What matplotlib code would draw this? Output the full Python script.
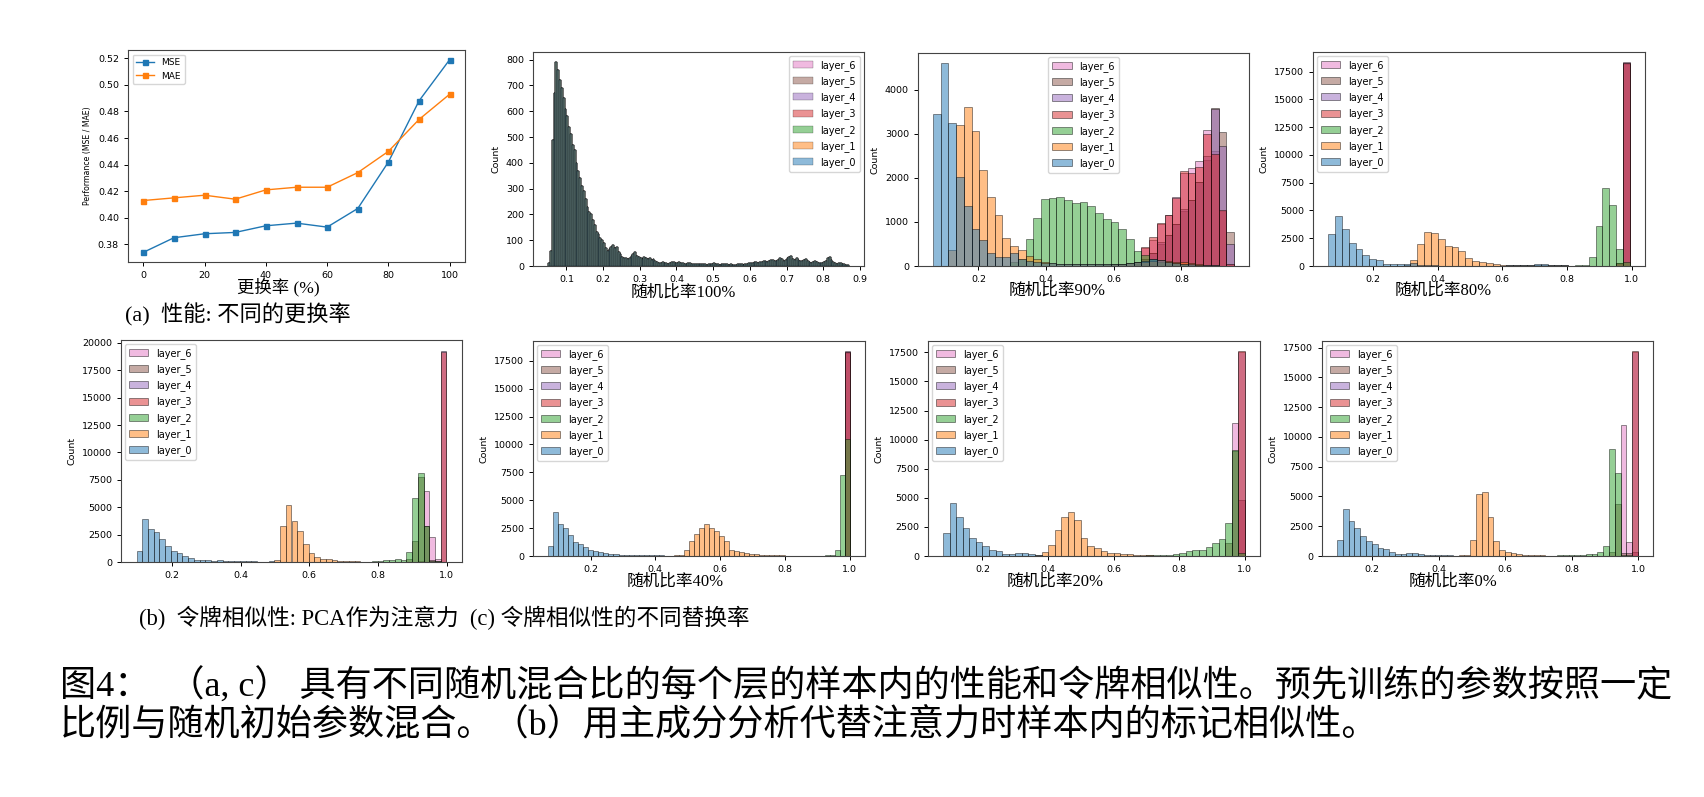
import numpy as np
import matplotlib
matplotlib.use('Agg')
from matplotlib import pyplot as plt

W, H = 1704, 797
plt.rcParams['font.family'] = ['DejaVu Sans']

# (a) performance vs replacement rate
rate = [0, 10, 20, 30, 40, 50, 60, 70, 80, 90, 100]
mse = [0.374, 0.385, 0.388, 0.389, 0.394, 0.396, 0.393, 0.407, 0.442, 0.488, 0.519]
mae = [0.413, 0.415, 0.417, 0.414, 0.421, 0.423, 0.423, 0.434, 0.450, 0.474, 0.493]

layers = ['layer_6', 'layer_5', 'layer_4', 'layer_3', 'layer_2', 'layer_1', 'layer_0']
layer_colors = {'layer_0': '#1f77b4', 'layer_1': '#ff7f0e', 'layer_2': '#2ca02c',
                'layer_3': '#d62728', 'layer_4': '#9467bd', 'layer_5': '#8c564b',
                'layer_6': '#e377c2'}

# random ratio 100% : all layers look the same (bin start, width, counts)
r100_bins = (0.05, 0.005, 164)
r100_counts = [10, 60, 490, 670, 790, 760, 720, 690, 650, 610,
               580, 540, 510, 470, 450, 400, 370, 340, 310, 290,
               260, 230, 210, 200, 180, 160, 130, 125, 110, 100,
               90, 70, 60, 65, 75, 80, 70, 75, 55, 45,
               35, 30, 32, 28, 30, 40, 45, 55, 40, 35,
               30, 28, 35, 30, 28, 30, 25, 28, 20, 15,
               12, 10, 14, 12, 10, 9, 12, 14, 16, 13, 12, 15, 10, 11, 9, 8, 10, 12, 9, 8,
               8, 7, 6, 8, 7, 6, 5, 6, 7, 8, 10, 8, 6, 5, 6, 7, 8, 6, 5, 6,
               5, 4, 5, 6, 7, 6, 5, 6, 8, 10,
               12, 10, 14, 15, 12, 14, 16, 18, 20, 15, 18, 22, 24, 20, 18, 25, 30, 26, 20, 24,
               30, 35, 38, 28, 25, 30, 22, 20, 18, 24, 26, 20, 15, 12, 14, 18, 16, 12, 10, 12,
               15, 20, 30, 35, 25, 15, 10, 8, 10, 12, 8, 6, 5, 3]

# random ratio 90%  (first non-empty bin, counts)
r90_bins = (0.066, 0.0228, 39)
r90 = {
    'layer_0': (0, [3450, 4600, 3250, 2010, 1350, 830, 600, 300, 195, 210, 285, 150, 120, 90,
                    70, 60, 55, 50, 45, 45, 40, 40, 40, 45, 50, 60, 80, 120, 150, 130, 100, 70,
                    50, 40, 30, 20, 15, 10, 5]),
    'layer_1': (2, [360, 3190, 3600, 3060, 2180, 1570, 1150, 640, 450, 370, 230, 150, 80, 60,
                    50, 50, 40, 40, 40, 40, 40, 40, 50, 60, 80, 100, 120, 130, 120, 100, 80,
                    60, 40, 30, 20, 10, 5]),
    'layer_2': (10, [100, 150, 620, 1090, 1510, 1550, 1575, 1490, 1425, 1455, 1360, 1200, 1065,
                     1000, 840, 615, 330, 250, 150, 100, 80, 60, 40, 30, 20, 10, 5]),
    'layer_3': (20, [10, 20, 30, 40, 50, 70, 100, 430, 660, 970, 1150, 1550, 2150, 2100, 2250,
                     3000, 2550, 1270, 40]),
    'layer_4': (26, [50, 150, 300, 550, 700, 950, 1300, 1500, 1900, 2500, 3550, 2730, 490]),
    'layer_5': (26, [50, 150, 300, 500, 700, 950, 1250, 1500, 1900, 2400, 3580, 3040, 760]),
    'layer_6': (26, [80, 400, 600, 950, 1150, 1560, 2100, 2220, 2380, 3080, 2600, 1250, 40]),
}

# random ratio 80%
r80_bins = (0.061, 0.02122, 44)
r80 = {
    'layer_0': (0, [2850, 4530, 3300, 2040, 1500, 960, 630, 540, 180, 180, 180, 200, 250, 60,
                    50, 50, 40, 40, 40, 40, 40, 40, 40, 40, 40, 40, 60, 80, 100, 120, 150, 150,
                    120, 80, 50, 40, 30, 20, 10, 10, 5, 5]),
    'layer_1': (11, [100, 540, 1980, 3030, 2940, 2400, 1800, 1680, 1350, 720, 450, 360, 270,
                     180, 120, 80, 60, 50, 50, 60, 80, 100, 80, 50, 40, 30, 20, 10, 5]),
    'layer_2': (35, [20, 50, 100, 800, 3600, 7000, 5520, 1500, 400]),
    'layer_3': (42, [300, 18300]),
    'layer_4': (42, [250, 18250]),
    'layer_5': (42, [300, 18150]),
    'layer_6': (42, [200, 18350]),
}

# (b) PCA as attention
pca_bins = (0.096, 0.01674, 54)
pca = {
    'layer_0': (0, [1010, 3890, 3030, 2700, 2140, 1470, 1040, 830, 550, 370, 210, 150, 150, 100,
                    150, 120, 80, 50, 50, 50, 50, 40, 0, 60]),
    'layer_1': (24, [210, 3250, 5240, 3700, 2790, 1680, 830, 430, 280, 280, 150, 80, 60, 50, 50,
                     40, 40, 30, 20, 10]),
    'layer_2': (41, [100, 120, 150, 180, 250, 200, 920, 5820, 8120, 3310, 100, 50]),
    'layer_3': (53, [19200]),
    'layer_4': (53, [19300]),
    'layer_5': (47, [300, 1900, 7800, 3300, 200, 100]),
    'layer_6': (49, [100, 6490, 2300, 300]),
}

# random ratio 40%
r40_bins = (0.069, 0.01552, 60)
r40 = {
    'layer_0': (0, [920, 3920, 2850, 2530, 1900, 1280, 1070, 830, 560, 480, 330, 240, 150, 150,
                    100, 120, 120, 120, 80, 80, 60, 60, 50, 30]),
    'layer_1': (25, [60, 120, 560, 1300, 1990, 2530, 2850, 2530, 2200, 1810, 1300, 500, 420, 330,
                     270, 200, 150, 120, 80, 60, 60, 50, 40]),
    'layer_2': (55, [50, 100, 500, 7280, 10500]),
    'layer_3': (59, [18300]),
    'layer_4': (59, [18250]),
    'layer_5': (59, [18200]),
    'layer_6': (59, [18350]),
}

# random ratio 20%
r20_bins = (0.08, 0.02, 46)
r20 = {
    'layer_0': (0, [1960, 4520, 3370, 2410, 1570, 1200, 870, 540, 390, 150, 150, 240, 240, 150,
                    60, 40, 30, 20, 10]),
    'layer_1': (14, [60, 360, 930, 2200, 3310, 3760, 3100, 1540, 870, 660, 430, 290, 290, 200,
                     150, 100, 80, 60, 40, 20]),
    'layer_2': (30, [40, 50, 60, 80, 100, 150, 290, 430, 490, 520, 780, 1150, 1500, 2800, 9100,
                     300]),
    'layer_3': (45, [17600]),
    'layer_4': (45, [17550]),
    'layer_5': (43, [1130, 9000, 4800]),
    'layer_6': (44, [11400, 4800]),
}

# random ratio 0%
r0_bins = (0.094, 0.01742, 52)
r0 = {
    'layer_0': (0, [1320, 3970, 2980, 2390, 1720, 1270, 985, 650, 560, 370, 200, 200, 250, 250,
                    150, 60, 60, 60, 60, 60, 30]),
    'layer_1': (21, [60, 60, 1350, 5180, 5400, 3240, 1270, 500, 370, 250, 150, 60, 50, 50, 50,
                     40, 40, 30, 30, 20]),
    'layer_2': (38, [50, 80, 100, 100, 120, 150, 200, 300, 800, 8980, 6950, 100, 50]),
    'layer_3': (51, [17200]),
    'layer_4': (51, [17150]),
    'layer_5': (47, [300, 4330, 250, 250, 300]),
    'layer_6': (49, [11000, 1200, 300]),
}


def box(l, r, t, b):
    return [l / W, 1 - b / H, (r - l) / W, (b - t) / H]


def full(start, vals, n):
    c = np.zeros(n)
    c[start:start + len(vals)] = vals
    return c


def style(ax, size):
    ax.tick_params(labelsize=size, length=3, width=0.7)
    for s in ax.spines.values():
        s.set_linewidth(0.8)
        s.set_color('#444444')


def hist_panel(ax, bins, data, loc, lw=0.6):
    x0, w, n = bins
    edges = x0 + w * np.arange(n)
    for name in layers:
        if isinstance(data, dict):
            counts = full(data[name][0], data[name][1], n)
        else:
            counts = data
        ax.bar(edges, counts, width=w, align='edge', color=layer_colors[name],
               alpha=0.5, edgecolor='black', linewidth=lw, label=name)
    ax.set_ylabel('Count', fontsize=6.8)
    style(ax, 6.8)
    ax.legend(loc=loc, fontsize=7, labelspacing=0.55, handlelength=2.0,
              borderaxespad=0.4, framealpha=0.8)
    return ax


fig = plt.figure(figsize=(W / 100, H / 100), dpi=100)

ax = fig.add_axes(box(128, 465, 50, 262))
ax.plot(rate, mse, marker='s', markersize=3.6, linewidth=1.0, color='#1f77b4', label='MSE')
ax.plot(rate, mae, marker='s', markersize=3.6, linewidth=1.0, color='#ff7f0e', label='MAE')
ax.set_xticks([0, 20, 40, 60, 80, 100])
ax.set_yticks(np.arange(0.38, 0.521, 0.02))
ax.set_ylabel('Performance (MSE / MAE)', fontsize=5.6)
style(ax, 6.8)
ax.legend(loc='upper left', fontsize=6.5, handlelength=2.0)

ax100 = hist_panel(fig.add_axes(box(533, 864, 52, 266)), r100_bins, r100_counts, 'upper right', lw=0.3)
ax100.set_xticks(np.arange(0.1, 0.91, 0.1))
hist_panel(fig.add_axes(box(918, 1249, 53, 266)), r90_bins, r90, 'upper center')
hist_panel(fig.add_axes(box(1313, 1645, 52, 266)), r80_bins, r80, 'upper left')
hist_panel(fig.add_axes(box(121, 462, 340, 562)), pca_bins, pca, 'upper left')
hist_panel(fig.add_axes(box(533, 865, 341, 556)), r40_bins, r40, 'upper left')
hist_panel(fig.add_axes(box(928, 1260, 341, 556)), r20_bins, r20, 'upper left')
hist_panel(fig.add_axes(box(1322, 1653, 341, 556)), r0_bins, r0, 'upper left')

serif_cjk = ['Liberation Serif', 'Noto Sans CJK SC']


def label(x, y, s, size, ha='center'):
    fig.text(x / W, 1 - y / H, s, fontsize=size, ha=ha, va='center', family=serif_cjk)


label(278, 287, '更换率 (%)', 12.5)
label(125, 315, '(a)  性能: 不同的更换率', 16, ha='left')
label(683, 293, '随机比率100%', 12)
label(1057, 291, '随机比率90%', 12)
label(1443, 291, '随机比率80%', 12)
label(139, 618, '(b)  令牌相似性: PCA作为注意力  (c) 令牌相似性的不同替换率', 16.3, ha='left')
label(675, 582, '随机比率40%', 12)
label(1055, 582, '随机比率20%', 12)
label(1453, 582, '随机比率0%', 12)

label(60, 687, '图4：  （a, c） 具有不同随机混合比的每个层的样本内的性能和令牌相似性。预先训练的参数按照一定', 26, ha='left')
label(60, 725, '比例与随机初始参数混合。（b）用主成分分析代替注意力时样本内的标记相似性。', 26, ha='left')

fig.savefig('out.png', dpi=100)
